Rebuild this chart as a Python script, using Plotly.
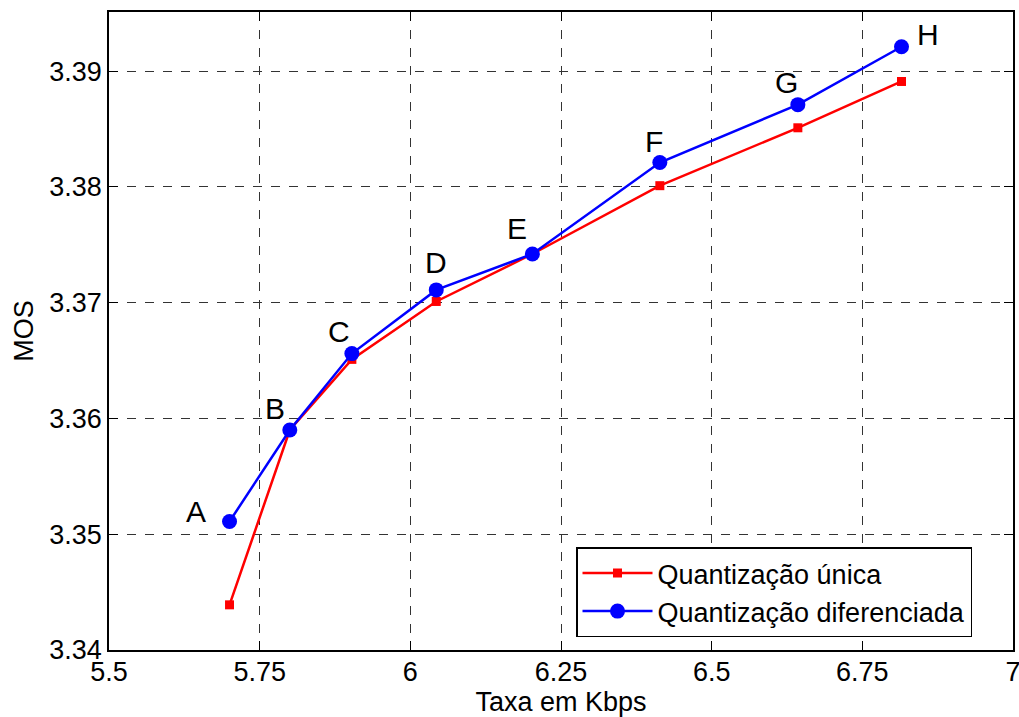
import plotly.graph_objects as go

# Data
points = ["A", "B", "C", "D", "E", "F", "G", "H"]
rate_kbps = [5.70, 5.80, 5.903, 6.043, 6.2025, 6.414, 6.643, 6.815]
mos_unica = [3.3439, 3.359, 3.3651, 3.3701, 3.3742, 3.3801, 3.3851, 3.3891]
mos_diferenciada = [3.3511, 3.3590, 3.3656, 3.3711, 3.3742, 3.3821, 3.3871, 3.3921]
x_ticks = [5.5, 5.75, 6, 6.25, 6.5, 6.75, 7]
y_ticks = [3.34, 3.35, 3.36, 3.37, 3.38, 3.39]

FONT = "Liberation Sans, Arial, sans-serif"

fig = go.Figure()
fig.add_trace(go.Scatter(
    x=rate_kbps, y=mos_unica, mode="lines+markers",
    name="Quantização única",
    line=dict(color="#ff0000", width=2.5),
    marker=dict(symbol="square", size=9, color="#ff0000"),
))
fig.add_trace(go.Scatter(
    x=rate_kbps, y=mos_diferenciada, mode="lines+markers",
    name="Quantização diferenciada",
    line=dict(color="#0000ff", width=2.5),
    marker=dict(symbol="circle", size=15, color="#0000ff"),
))

# label offsets (px) relative to blue points
offsets = [(-34, 10), (-15, 22), (-13, 22), (0, 27), (-15, 26), (-6, 21), (-11, 22), (26, 12)]
for lbl, xv, yv, (dx, dy) in zip(points, rate_kbps, mos_diferenciada, offsets):
    fig.add_annotation(x=xv, y=yv, text=lbl, showarrow=False,
                       xshift=dx, yshift=dy,
                       font=dict(family=FONT, size=30, color="black"))

axis_common = dict(
    showline=True, linecolor="black", linewidth=1.5, mirror="ticks",
    ticks="inside", ticklen=9, tickwidth=1.2, tickcolor="black",
    showgrid=True, gridcolor="#333333", gridwidth=1, griddash="dash",
    zeroline=False, automargin=False, ticklabeloverflow="allow",
    tickfont=dict(family=FONT, size=27, color="black"),
)

fig.update_xaxes(range=[5.5, 7], tickvals=x_ticks,
                 ticktext=[f"{v:g}" for v in x_ticks],
                 ticklabelstandoff=-3,
                 title=dict(text="Taxa em Kbps", font=dict(family=FONT, size=27, color="black"), standoff=6),
                 **axis_common)
fig.update_yaxes(range=[3.34, 3.3951], tickvals=y_ticks,
                 ticktext=[f"{v:.2f}" for v in y_ticks],
                 title=dict(text="MOS", font=dict(family=FONT, size=27, color="black"), standoff=8),
                 **axis_common)

fig.update_layout(
    width=1019, height=717,
    margin=dict(l=109, r=6, t=12, b=67),
    paper_bgcolor="white", plot_bgcolor="white",
    showlegend=True,
    legend=dict(
        x=0.5166, y=0.1607, xanchor="left", yanchor="top",
        bgcolor="white", bordercolor="black", borderwidth=1.5,
        font=dict(family=FONT, size=27, color="black"),
        itemwidth=70, tracegroupgap=0,
    ),
)

fig.write_html("out.html", config={"displayModeBar": False},
               post_script="document.body.style.margin='0';document.body.style.overflow='hidden';")
